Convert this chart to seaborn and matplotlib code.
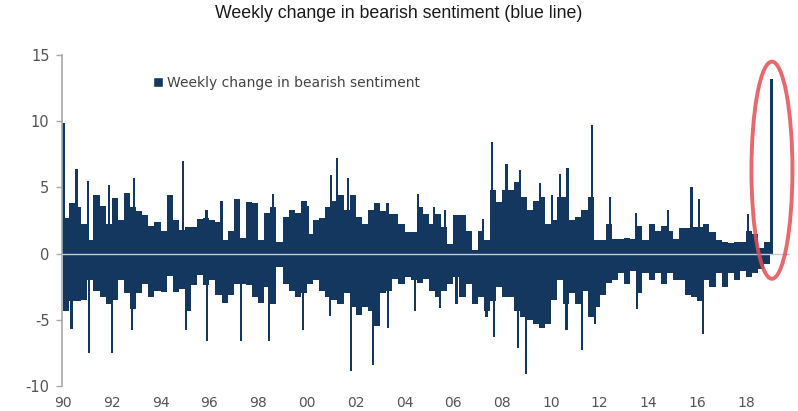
import numpy as np
import pandas as pd
import seaborn as sns
import matplotlib.pyplot as plt
from matplotlib.patches import Ellipse, Patch

# weekly bars are far too dense to read one by one, so the bulk is kept as a
# quarterly envelope (highest rise / deepest fall), 1990Q1 .. 2018Q4
quarter_up = [
    2.7, 3.8, 3.5, 2.2,  1.0, 4.4, 3.6, 2.2,  4.2, 2.5, 4.6, 3.5,
    3.2, 2.9, 2.1, 2.4,  1.7, 4.4, 2.5, 1.8,  2.0, 2.0, 2.6, 2.7,
    2.5, 2.4, 1.0, 1.7,  4.1, 1.2, 3.9, 3.8,  1.0, 3.1, 3.5, 0.9,
    2.8, 3.3, 3.1, 4.0,  1.5, 2.5, 2.7, 3.5,  4.0, 4.4, 3.3, 4.4,
    2.8, 2.2, 3.3, 3.8,  3.2, 3.0, 3.0, 2.2,  1.6, 1.6, 3.5, 3.0,
    2.2, 3.0, 2.0, 0.7,  2.9, 2.9, 1.7, 0.3,  1.7, 1.0, 4.8, 3.9,
    4.8, 4.8, 5.4, 4.3,  3.3, 4.0, 4.3, 2.2,  2.5, 4.3, 4.3, 2.5,
    2.8, 3.3, 4.3, 1.0,  1.0, 2.2, 1.1, 1.1,  1.2, 1.1, 2.1, 1.0,
    2.2, 1.7, 2.1, 1.7,  1.1, 1.9, 1.9, 2.0,  2.0, 2.2, 1.6, 1.0,
    0.9, 0.8, 0.9, 0.9,  1.7, 1.5, 0.4, 0.9,
]
quarter_down = [
    -4.3, -3.6, -3.6, -3.5,  -2.0, -2.8, -3.3, -3.8,  -3.5, -2.0, -3.0, -4.2,
    -3.0, -2.3, -3.3, -2.8,  -2.9, -1.7, -2.9, -2.7,  -4.3, -2.4, -1.6, -2.4,
    -2.0, -3.1, -3.7, -3.1,  -2.3, -2.3, -2.4, -3.3,  -3.7, -2.5, -3.8, -1.0,
    -2.3, -2.8, -3.3, -3.0,  -2.3, -2.0, -2.8, -3.3,  -3.5, -3.8, -3.0, -4.0,
    -4.6, -4.0, -4.3, -5.5,  -3.0, -2.8, -1.9, -2.3,  -1.8, -2.0, -2.2, -1.9,
    -2.8, -3.3, -2.8, -2.3,  -1.8, -3.3, -2.3, -3.8,  -3.3, -4.3, -3.6, -2.5,
    -3.3, -3.3, -4.3, -4.8,  -5.0, -5.3, -5.6, -5.3,  -3.5, -2.0, -3.8, -3.0,
    -3.8, -2.8, -4.8, -4.0,  -3.1, -2.2, -2.0, -1.5,  -2.3, -1.3, -3.0, -1.5,
    -2.0, -1.5, -2.3, -1.5,  -2.0, -2.0, -3.1, -3.3,  -3.6, -2.0, -2.5, -1.5,
    -2.5, -1.5, -2.0, -1.3,  -1.8, -1.5, -1.2, -0.8,
]

# single weeks sticking out of the envelope
spike_years = [
    1990.02, 1990.35, 1990.55, 1991.04, 1991.08, 1991.90, 1992.00, 1992.82,
    1992.91, 1994.93, 1995.05, 1995.88, 1995.90, 1996.50, 1997.30, 1998.45,
    1998.62, 1999.80, 1999.85, 2000.05, 2000.94, 2001.00, 2001.24, 2001.69,
    2001.79, 2002.72, 2003.33, 2003.30, 2004.43, 2004.56, 2005.20, 2005.45,
    2005.65, 2006.13, 2007.20, 2007.36, 2007.57, 2007.66, 2008.18, 2008.66,
    2008.73, 2008.99, 2009.55, 2010.05, 2010.37, 2010.64, 2010.68, 2011.28,
    2011.67, 2011.80, 2012.42, 2013.50, 2013.52, 2014.81, 2015.76, 2016.06,
    2016.24, 2018.09, 2019.04,
]
spike_values = [
    9.9, -5.7, 6.4, 5.5, -7.5, 5.2, -7.5, -5.8,
    5.7, 7.0, -5.8, 3.3, -6.6, 4.0, -6.6, -6.6,
    4.5, 4.0, -5.8, 3.6, -4.7, 5.9, 7.2, 5.7,
    -8.9, -8.4, -5.6, 3.8, -4.3, 4.5, 3.5, -4.1,
    3.3, -3.8, 2.6, -4.8, 8.4, -6.3, 6.8, -7.1,
    6.3, -9.1, 5.3, 4.4, 6.0, -5.8, 6.5, -7.3,
    9.7, -5.3, 4.3, 3.1, -4.2, 3.3, 5.0, 4.1,
    -6.1, 3.0, 13.2,
]

year_ticks = list(range(1990, 2019, 2))
year_labels = [f"{y % 100:02d}" for y in year_ticks]
y_ticks = [-10, -5, 0, 5, 10, 15]

navy = "#13375f"

quarter_mid = 1990 + (np.arange(len(quarter_up)) + 0.5) / 4
df = pd.DataFrame({"date": quarter_mid, "up": quarter_up, "down": quarter_down})

sns.set_style("white")
plt.rcParams["font.family"] = ["DejaVu Sans"]

fig = plt.figure(figsize=(7.98, 4.11), dpi=100)
ax = fig.add_axes([62 / 798, 25 / 411, 728 / 798, 331 / 411])

for col in ["up", "down"]:
    sns.barplot(data=df, x="date", y=col, native_scale=True, width=1.0,
                color=navy, saturation=1, linewidth=0, errorbar=None, ax=ax)
ax.bar(spike_years, spike_values, width=0.09, color=navy, linewidth=0)

ax.axhline(0, color="#c3ccd6", lw=1, zorder=3)
ax.add_patch(Ellipse((2019.06, 6.3), 1.68, 16.4, fill=False, ec="#e24f55",
                     lw=2.8, alpha=0.85, clip_on=False, zorder=4))

ax.set_xlim(1990 - 1 / 24.4, 2019.8)
ax.set_ylim(-10, 15)
ax.set_xticks(year_ticks, year_labels)
ax.set_yticks(y_ticks, [str(t) for t in y_ticks])
ax.set_xlabel("")
ax.set_ylabel("")

for s in ["top", "right", "bottom"]:
    ax.spines[s].set_visible(False)
ax.spines["left"].set_color("#a8a8a8")
ax.spines["left"].set_linewidth(1.2)
ax.tick_params(axis="y", left=True, length=4, color="#a8a8a8", width=1,
               labelsize=10.5, labelcolor="#555555", pad=5)
ax.tick_params(axis="x", bottom=False, length=0, labelsize=10,
               labelcolor="#555555", pad=7)

ax.legend(handles=[Patch(facecolor=navy, label="Weekly change in bearish sentiment")],
          loc="center left", bbox_to_anchor=(0.125, 0.915), frameon=False,
          handlelength=0.7, handleheight=0.7, handletextpad=0.3,
          borderpad=0, borderaxespad=0, fontsize=10, labelcolor="#444444")

fig.text(0.5, 1 - 13 / 411, "Weekly change in bearish sentiment (blue line)",
         ha="center", va="center", fontsize=12.8, family="Liberation Sans",
         color="#1a1a1a")

fig.savefig("out.png", dpi=100)
